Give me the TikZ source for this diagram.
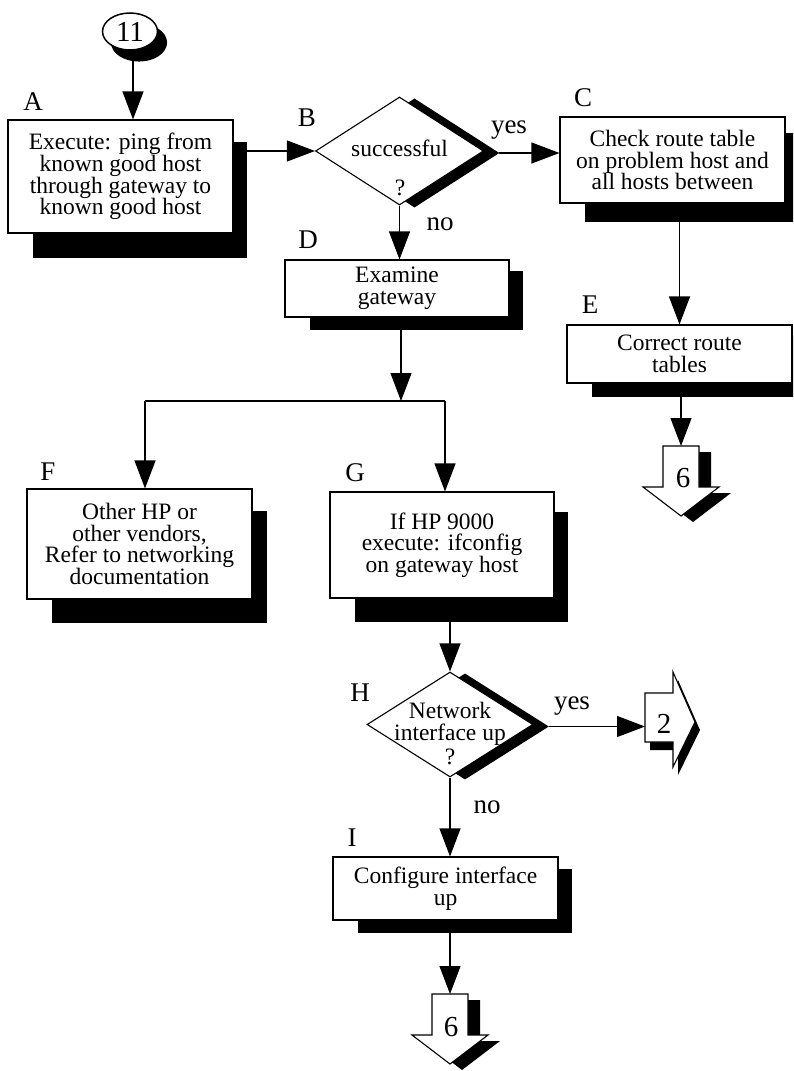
\documentclass[tikz,border=0pt]{standalone}
\usepackage{fontspec}
\setmainfont{Liberation Serif}
\usetikzlibrary{shapes.geometric,arrows.meta}

\begin{document}
\begin{tikzpicture}[x=1pt,y=-1pt,line width=1.1pt,>={Triangle[length=28pt,width=21pt]}]
\newcommand{\fsize}{\fontsize{23.5}{21.7}\selectfont}
\newcommand{\lsize}{\fontsize{27}{27}\selectfont}
\newcommand{\nsize}{\fontsize{29}{29}\selectfont}
\newcommand{\pagedown}[2]{%
\fill[shift={(#1+12,#2+6)}] (-18,0) -- (18,0) -- (18,41) -- (38,41) -- (0,70) -- (-38,41) -- (-18,41) -- cycle;
\draw[fill=white,shift={(#1,#2)}] (-18,0) -- (18,0) -- (18,41) -- (38,41) -- (0,70) -- (-38,41) -- (-18,41) -- cycle;}
\tikzstyle{every node}=[font=\fsize,inner sep=0pt]
\tikzstyle{stepbox}=[draw,fill=white,align=center]
\tikzstyle{test}=[diamond,draw,fill=white,minimum width=168pt,minimum height=108pt]
\tikzstyle{tag}=[font=\lsize]
\tikzstyle{num}=[font=\nsize]
\useasboundingbox (0,0) rectangle (793,1071);
\clip (0,0) rectangle (793,1071);
\fill (33,142) rectangle (247,258);
\fill (585,133) rectangle (800,222);
\fill (310,271) rectangle (523,330);
\fill (592,335) rectangle (806,397);
\fill (52,511) rectangle (267,623);
\fill (355,512) rectangle (568,622);
\fill (358,869) rectangle (572,933);
\node[ellipse,draw,fill=black,minimum width=55pt,minimum height=37pt] (starts) at (139,42.5) {};
\node[ellipse,draw,line width=1.5pt,fill=white,minimum width=55pt,minimum height=37pt,num] (start) at (130,31.5) {11};
\node[stepbox,minimum width=225pt,minimum height=113pt] (A) at (120.5,176.5) {Execute: ping from\\known good host\\through gateway to\\known good host};
\node[test,fill=black] (Bs) at (414.5,153) {};
\node[test] (B) at (399.5,151) {};
\node (Bq) at (399.5,148) {successful};
\node (Bq2) at (400,188) {?};
\node[stepbox,minimum width=225pt,minimum height=86pt] (C) at (672.5,160) {Check route table\\on problem host and\\all hosts between};
\node[stepbox,minimum width=224pt,minimum height=57pt] (D) at (397,288.5) {Examine\\gateway};
\node[stepbox,minimum width=225pt,minimum height=58pt] (E) at (679.5,354) {Correct route\\tables};
\node[stepbox,minimum width=225pt,minimum height=110pt] (F) at (139.5,544) {Other HP or\\other vendors,\\Refer to networking\\documentation};
\node[stepbox,minimum width=224pt,minimum height=106pt] (G) at (442,545) {If HP 9000\\execute: ifconfig\\on gateway host};
\node[test,fill=black,minimum width=166pt,minimum height=105pt] (Hs) at (465,726.5) {};
\node[test,minimum width=166pt,minimum height=105pt] (H) at (450,724.5) {};
\node[align=center] (Hq) at (450,723.5) {Network\\interface up};
\node (Hq2) at (450,757) {?};
\node[stepbox,minimum width=225pt,minimum height=63pt] (I) at (445.5,888.5) {Configure interface\\up};
\node[tag] (la) at (33,102) {A};
\node[tag] (lb) at (307,118) {B};
\node[tag] (lc) at (583,98) {C};
\node[tag] (ld) at (308,240) {D};
\node[tag] (le) at (590,305) {E};
\node[tag] (lf) at (48,472) {F};
\node[tag] (lg) at (355,473) {G};
\node[tag] (lh) at (360,693) {H};
\node[tag] (li) at (352,838) {I};
\node[tag] (yes1) at (509,130) {yes};
\node[tag] (no1) at (440,224) {no};
\node[tag] (yes2) at (572,706) {yes};
\node[tag] (no2) at (487,807) {no};
\pagedown{681}{446}
\pagedown{450}{994}
\fill[shift={(5,8)}] (645,693) -- (673,693) -- (673,672) -- (695,722) -- (673,767) -- (673,742) -- (645,742) -- cycle;
\draw[fill=white] (645,693) -- (673,693) -- (673,672) -- (695,722) -- (673,767) -- (673,742) -- (645,742) -- cycle;
\node[num] (six1) at (683,478) {6};
\node[num] (six2) at (451,1027) {6};
\node[num] (two) at (664,724) {2};
\coordinate (in11) at (133,55);
\coordinate (p6a) at (681,446);
\coordinate (p6b) at (450,994);
\coordinate (p2) at (645,724);
\coordinate (J) at (401,401);
\coordinate (JF) at (145,401);
\coordinate (JG) at (445,401);
\draw[->] (in11) -- (in11 |- A.north);
\draw[->] (B.west -| A.east) -- (B.west);
\draw[->] (Bs.east) -- (Bs.east -| C.west);
\draw[->] (B.south) -- (B.south |- D.north);
\draw[->] (C.south -| E.north) -- (E.north);
\draw[->] (E.south -| p6a) -- (p6a);
\draw[->] (D.south -| J) -- (J);
\draw (JF) -- (JG);
\draw[->] (JF) -- (JF |- F.north);
\draw[->] (JG) -- (JG |- G.north);
\draw[->] (G.south -| H.north) -- (H.north);
\draw[->] (Hs.east) -- (Hs.east -| p2);
\draw[->] (H.south) -- (H.south |- I.north);
\draw[->] (I.south -| p6b) -- (p6b);
\end{tikzpicture}
\end{document}
